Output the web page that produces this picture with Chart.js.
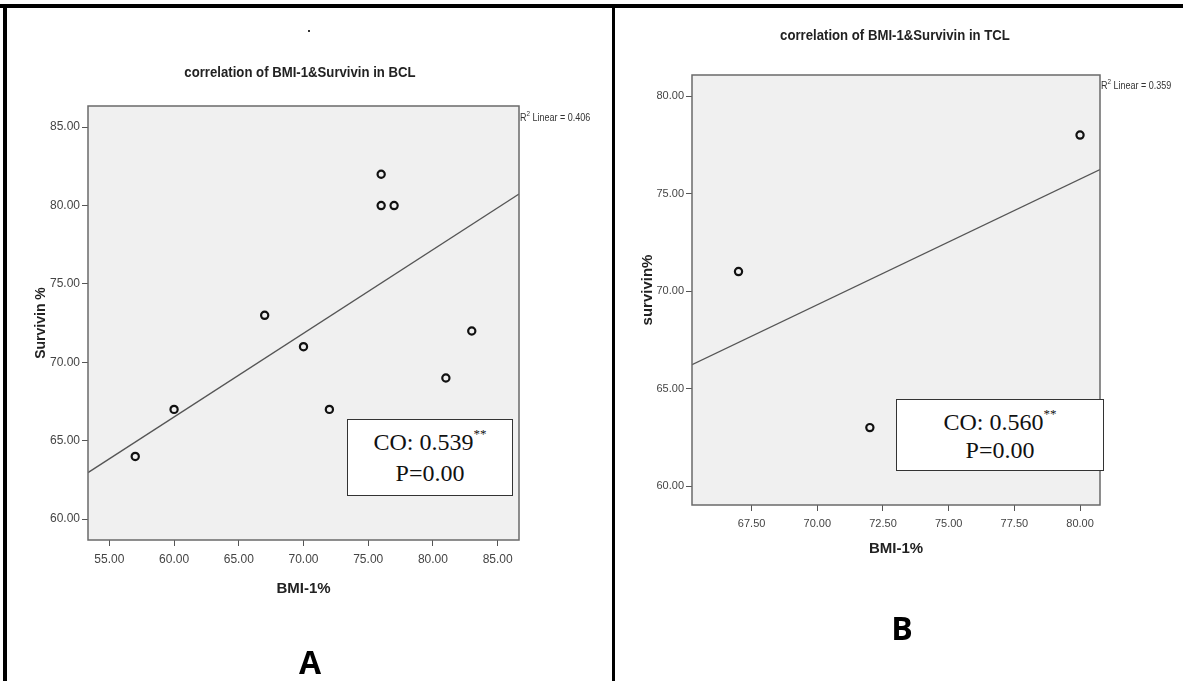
<!DOCTYPE html>
<html><head><meta charset="utf-8">
<script src="https://cdn.jsdelivr.net/npm/chart.js@4.4.1/dist/chart.umd.min.js"></script>
<style>
html,body{margin:0;padding:0;background:#fff;}
body{width:1183px;height:681px;position:relative;overflow:hidden;font-family:'Liberation Sans',Arial,sans-serif;}
canvas{position:absolute;}
.title{position:absolute;font-family:'Liberation Sans Narrow','Liberation Sans',Arial,sans-serif;font-weight:bold;font-size:15.5px;color:#222;white-space:nowrap;transform:translate(-50%,-50%) scaleX(0.85);line-height:1;}
.r2{position:absolute;font-family:'Liberation Sans Narrow','Liberation Sans',Arial,sans-serif;font-size:10px;color:#333;white-space:nowrap;line-height:1;transform-origin:left center;transform:scaleX(0.9);}
.r2 sup{font-size:7px;vertical-align:top;position:relative;top:-3px;}
.cobox{position:absolute;background:#fff;border:1.5px solid #333;box-sizing:border-box;}
.coline{position:absolute;left:0;right:0;text-align:center;font-family:'Liberation Serif','Times New Roman',serif;font-size:24px;color:#111;line-height:1;transform:translateY(-50%);white-space:nowrap;}
.coline sup{font-size:13px;vertical-align:top;position:relative;top:-3px;}
.letter{position:absolute;font-family:'Open Sans','Lato',sans-serif;font-weight:bold;font-size:32px;color:#000;transform:translate(-50%,-50%);line-height:1;}
.bar{position:absolute;background:#000;z-index:5;}
</style></head>
<body>
<canvas id="chartA" width="612" height="681" style="left:0;top:0;width:612px;height:681px;"></canvas>
<canvas id="chartB" width="569" height="681" style="left:614px;top:0;width:569px;height:681px;"></canvas>

<div class="bar" style="left:0;top:4px;width:1183px;height:4px;"></div>
<div class="bar" style="left:3px;top:4px;width:4px;height:677px;"></div>
<div class="bar" style="left:612px;top:4px;width:3px;height:677px;"></div>
<div style="position:absolute;left:308px;top:30px;width:2px;height:2px;background:#333;"></div>

<div class="title" style="left:300px;top:72px;">correlation of BMI-1&amp;Survivin in BCL</div>
<div class="title" style="left:895px;top:35px;">correlation of BMI-1&amp;Survivin in TCL</div>

<div class="r2" style="left:520px;top:113px;">R<sup>2</sup> Linear = 0.406</div>
<div class="r2" style="left:1101px;top:81px;">R<sup>2</sup> Linear = 0.359</div>

<div class="cobox" style="left:347px;top:419px;width:166px;height:77px;">
  <div class="coline" style="top:22px;">CO: 0.539<sup>**</sup></div>
  <div class="coline" style="top:53px;">P=0.00</div>
</div>
<div class="cobox" style="left:896px;top:399px;width:208px;height:72px;">
  <div class="coline" style="top:22px;">CO: 0.560<sup>**</sup></div>
  <div class="coline" style="top:50px;">P=0.00</div>
</div>

<div class="letter" style="left:310px;top:662px;">A</div>
<div class="letter" style="left:902px;top:628px;">B</div>

<script>
// ---- Data ----
const bclBMI      = [57, 60, 67, 70, 72, 76, 76, 77, 81, 83];
const bclSurvivin = [64, 67, 73, 71, 67, 82, 80, 80, 69, 72];
const tclBMI      = [67, 72, 80];
const tclSurvivin = [71, 63, 78];

const bclXTicks = [55, 60, 65, 70, 75, 80, 85];
const bclYTicks = [60, 65, 70, 75, 80, 85];
const tclXTicks = [67.5, 70, 72.5, 75, 77.5, 80];
const tclYTicks = [60, 65, 70, 75, 80];

// fit lines (linear, as drawn)
const bclFit = {intercept: 34.5, slope: 0.5336};
const tclFit = {intercept: 24.22, slope: 0.644};

// axis ranges
const bclXRange = [53.35, 86.65];
const bclYRange = [58.67, 86.35];
const tclXRange = [65.23, 80.76];
const tclYRange = [59.03, 81.08];

Chart.defaults.color = '#333';

const plotFrame = {
  id: 'plotFrame',
  beforeDraw(chart) {
    const {ctx, chartArea: a} = chart;
    ctx.save();
    ctx.fillStyle = '#f0f0f0';
    ctx.fillRect(a.left, a.top, a.width, a.height);
    ctx.restore();
  },
  afterDraw(chart) {
    const {ctx, chartArea: a} = chart;
    ctx.save();
    ctx.strokeStyle = '#6a6a6a';
    ctx.lineWidth = 1.5;
    ctx.strokeRect(a.left, a.top, a.width, a.height);
    ctx.restore();
  }
};

function makeChart(id, o) {
  const pts = o.xs.map((x, i) => ({x: x, y: o.ys[i]}));
  const fitPts = [
    {x: o.xRange[0], y: o.fit.intercept + o.fit.slope * o.xRange[0]},
    {x: o.xRange[1], y: o.fit.intercept + o.fit.slope * o.xRange[1]}
  ];
  const narrow = "'Liberation Sans Narrow','Liberation Sans',Arial,sans-serif";
  return new Chart(document.getElementById(id), {
    type: 'scatter',
    data: {
      datasets: [
        {data: pts, pointStyle: 'circle', pointRadius: 3.6, pointBorderWidth: 2.2,
         borderColor: '#111', backgroundColor: 'rgba(0,0,0,0)', pointBackgroundColor: 'rgba(0,0,0,0)', showLine: false},
        {data: fitPts, showLine: true, pointRadius: 0, borderColor: '#555', borderWidth: 1.3, fill: false}
      ]
    },
    options: {
      responsive: false, animation: false, devicePixelRatio: 1,
      layout: {padding: o.padding},
      plugins: {legend: {display: false}, tooltip: {enabled: false}},
      scales: {
        x: {
          type: 'linear', min: o.xRange[0], max: o.xRange[1],
          afterBuildTicks: s => { s.ticks = o.xTicks.map(v => ({value: v})); },
          afterFit: s => { s.height = o.xHeight; },
          ticks: {autoSkip: false, maxRotation: 0, padding: o.xTickPad, color: '#444',
                  font: {family: narrow, size: o.tickSize}, callback: v => Number(v).toFixed(2)},
          grid: {display: true, drawOnChartArea: false, drawTicks: true, tickLength: 6, color: '#555'},
          border: {display: false},
          title: {display: true, text: o.xTitle, color: '#222',
                  font: {family: narrow, size: 15, weight: 'bold'}, padding: {top: 0, bottom: o.xTitlePad}}
        },
        y: {
          type: 'linear', min: o.yRange[0], max: o.yRange[1],
          afterBuildTicks: s => { s.ticks = o.yTicks.map(v => ({value: v})); },
          afterFit: s => { s.width = o.yWidth; },
          ticks: {autoSkip: false, padding: 2, color: '#444',
                  font: {family: narrow, size: o.tickSize}, callback: v => Number(v).toFixed(2)},
          grid: {display: true, drawOnChartArea: false, drawTicks: true, tickLength: 6, color: '#555'},
          border: {display: false},
          title: {display: true, text: o.yTitle, color: '#222',
                  font: {family: "'Liberation Sans',Arial,sans-serif", size: o.yTitleSize, weight: 'bold'},
                  padding: {top: o.yTitlePad, bottom: 0}}
        }
      }
    },
    plugins: [plotFrame]
  });
}

makeChart('chartA', {
  xs: bclBMI, ys: bclSurvivin, fit: bclFit,
  xRange: bclXRange, yRange: bclYRange, xTicks: bclXTicks, yTicks: bclYTicks,
  padding: {left: 0, top: 106, right: 93, bottom: 71},
  yWidth: 88, xHeight: 70, xTickPad: 6, tickSize: 12,
  xTitle: 'BMI-1%', yTitle: 'Survivin %', xTitlePad: 12, yTitlePad: 33, yTitleSize: 14
});

makeChart('chartB', {
  xs: tclBMI, ys: tclSurvivin, fit: tclFit,
  xRange: tclXRange, yRange: tclYRange, xTicks: tclXTicks, yTicks: tclYTicks,
  padding: {left: 0, top: 75, right: 83, bottom: 106},
  yWidth: 78, xHeight: 70, xTickPad: 6, tickSize: 11,
  xTitle: 'BMI-1%', yTitle: 'survivin%', xTitlePad: 17, yTitlePad: 25, yTitleSize: 15
});
</script>
</body></html>
